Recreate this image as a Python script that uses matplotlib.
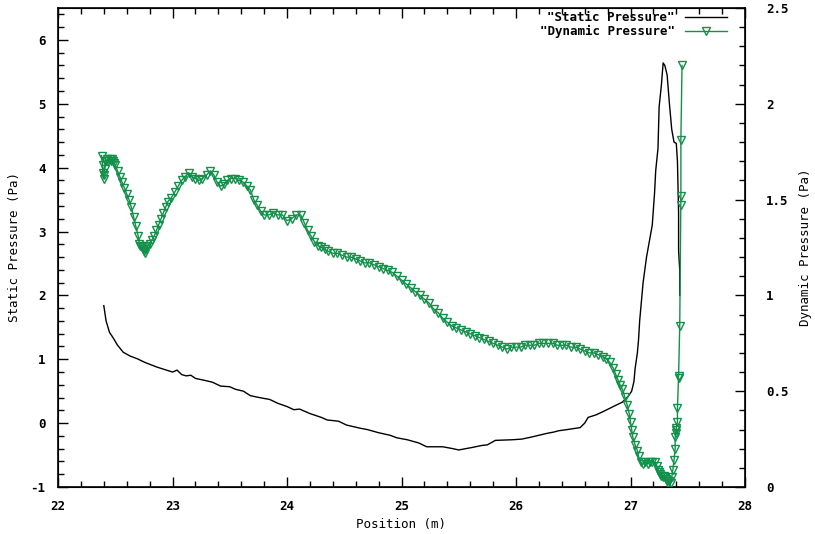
import matplotlib
matplotlib.use('Agg')
import matplotlib.pyplot as plt
from matplotlib.ticker import MultipleLocator

# static pressure (left axis)
static_x = [22.40, 22.42, 22.45, 22.48, 22.52, 22.57, 22.63, 22.69, 22.76, 22.86,
            22.93, 23.00, 23.04, 23.08, 23.12, 23.16, 23.20, 23.28, 23.35, 23.42,
            23.50, 23.55, 23.62, 23.68, 23.76, 23.85, 23.92, 24.00, 24.06, 24.11,
            24.20, 24.30, 24.35, 24.45, 24.52, 24.64, 24.70, 24.80, 24.90, 24.96,
            25.05, 25.15, 25.22, 25.36, 25.45, 25.50, 25.53, 25.62, 25.70, 25.75,
            25.82, 25.97, 26.05, 26.13, 26.20, 26.27, 26.33, 26.37, 26.45, 26.56,
            26.60, 26.63, 26.70, 26.76, 26.85, 26.93, 26.98, 27.01, 27.03, 27.04,
            27.06, 27.07, 27.08, 27.09, 27.11, 27.14, 27.17, 27.19, 27.21, 27.22,
            27.24, 27.25, 27.27, 27.285, 27.30, 27.32, 27.34, 27.36, 27.38, 27.40,
            27.41, 27.42, 27.42, 27.43, 27.43]
static_y = [1.84, 1.60, 1.42, 1.34, 1.22, 1.11, 1.05, 1.01, 0.95, 0.88,
            0.84, 0.80, 0.83, 0.76, 0.74, 0.75, 0.70, 0.67, 0.64, 0.58,
            0.57, 0.53, 0.50, 0.43, 0.40, 0.37, 0.31, 0.26, 0.21, 0.22,
            0.15, 0.09, 0.05, 0.03, -0.03, -0.08, -0.10, -0.15, -0.19, -0.23,
            -0.26, -0.31, -0.37, -0.37, -0.40, -0.42, -0.41, -0.38, -0.35, -0.34,
            -0.27, -0.26, -0.25, -0.22, -0.19, -0.16, -0.14, -0.12, -0.10, -0.07,
            0.00, 0.09, 0.13, 0.18, 0.26, 0.33, 0.42, 0.50, 0.65, 0.85,
            1.10, 1.30, 1.60, 1.80, 2.20, 2.60, 2.90, 3.10, 3.60, 3.95,
            4.30, 4.95, 5.30, 5.64, 5.60, 5.45, 5.00, 4.60, 4.40, 4.38,
            4.10, 3.30, 2.70, 2.40, 2.00]

# dynamic pressure (right axis)
dyn_x = [22.38, 22.39, 22.39, 22.40, 22.40, 22.41, 22.41, 22.42, 22.43, 22.44,
         22.45, 22.46, 22.47, 22.48, 22.49, 22.50, 22.52, 22.54, 22.56, 22.58,
         22.60, 22.62, 22.64, 22.66, 22.68, 22.70, 22.71, 22.72, 22.73, 22.74,
         22.75, 22.76, 22.77, 22.78, 22.80, 22.82, 22.84, 22.86, 22.88, 22.90,
         22.92, 22.94, 22.96, 22.99, 23.02, 23.05, 23.08, 23.11, 23.14, 23.17,
         23.20, 23.23, 23.26, 23.30, 23.33, 23.36, 23.39, 23.42, 23.45, 23.48,
         23.51, 23.55, 23.58, 23.62, 23.65, 23.68, 23.71, 23.74, 23.77, 23.80,
         23.84, 23.88, 23.92, 23.96, 24.00, 24.04, 24.08, 24.12, 24.15, 24.18,
         24.21, 24.24, 24.27, 24.30, 24.33, 24.36, 24.40, 24.44, 24.48, 24.52,
         24.56, 24.60, 24.64, 24.68, 24.72, 24.76, 24.80, 24.84, 24.88, 24.92,
         24.96, 25.00, 25.04, 25.08, 25.12, 25.16, 25.20, 25.24, 25.28, 25.32,
         25.36, 25.40, 25.44, 25.48, 25.52, 25.56, 25.60, 25.64, 25.68, 25.72,
         25.76, 25.80, 25.84, 25.88, 25.92, 25.96, 26.00, 26.04, 26.08, 26.12,
         26.16, 26.20, 26.24, 26.28, 26.32, 26.36, 26.40, 26.44, 26.48, 26.52,
         26.56, 26.60, 26.64, 26.68, 26.72, 26.76, 26.79, 26.82, 26.85, 26.87,
         26.89, 26.91, 26.93, 26.95, 26.97, 26.99, 27.00, 27.01, 27.02, 27.04,
         27.06, 27.07, 27.09, 27.11, 27.13, 27.15, 27.17, 27.19, 27.21, 27.23,
         27.24, 27.25, 27.26, 27.27, 27.28, 27.29, 27.30, 27.31, 27.32, 27.33,
         27.34, 27.35, 27.36, 27.37, 27.38, 27.39, 27.39, 27.40, 27.40, 27.40,
         27.41, 27.41, 27.42, 27.42, 27.43, 27.44, 27.44, 27.44, 27.45]
dyn_y = [1.73, 1.68, 1.64, 1.61, 1.63, 1.66, 1.70, 1.70, 1.71, 1.70,
         1.71, 1.70, 1.71, 1.70, 1.69, 1.68, 1.65, 1.62, 1.59, 1.56,
         1.53, 1.50, 1.46, 1.41, 1.36, 1.31, 1.27, 1.26, 1.25, 1.24,
         1.23, 1.22, 1.24, 1.26, 1.27, 1.29, 1.31, 1.34, 1.37, 1.40,
         1.43, 1.46, 1.49, 1.51, 1.54, 1.57, 1.60, 1.62, 1.64, 1.62,
         1.61, 1.60, 1.61, 1.63, 1.65, 1.63, 1.59, 1.57, 1.58, 1.60,
         1.61, 1.61, 1.60, 1.59, 1.57, 1.55, 1.50, 1.47, 1.44, 1.42,
         1.42, 1.43, 1.42, 1.42, 1.39, 1.40, 1.42, 1.42, 1.38, 1.34,
         1.31, 1.28, 1.26, 1.25, 1.24, 1.23, 1.22, 1.22, 1.21, 1.20,
         1.20, 1.19, 1.18, 1.17, 1.17, 1.16, 1.15, 1.14, 1.13, 1.12,
         1.10, 1.08, 1.06, 1.04, 1.02, 1.00, 0.98, 0.96, 0.93, 0.91,
         0.88, 0.86, 0.84, 0.83, 0.82, 0.81, 0.80, 0.79, 0.78, 0.77,
         0.76, 0.75, 0.74, 0.73, 0.72, 0.73, 0.73, 0.73, 0.74, 0.74,
         0.74, 0.75, 0.75, 0.75, 0.75, 0.74, 0.74, 0.74, 0.73, 0.73,
         0.72, 0.71, 0.70, 0.70, 0.69, 0.68, 0.67, 0.65, 0.62, 0.59,
         0.56, 0.53, 0.51, 0.47, 0.43, 0.38, 0.34, 0.30, 0.26, 0.22,
         0.19, 0.16, 0.13, 0.12, 0.13, 0.12, 0.13, 0.13, 0.13, 0.11,
         0.09, 0.08, 0.07, 0.06, 0.05, 0.06, 0.05, 0.04, 0.03, 0.02,
         0.03, 0.02, 0.05, 0.09, 0.14, 0.20, 0.26, 0.30, 0.28, 0.31,
         0.34, 0.41, 0.57, 0.58, 0.84, 1.47, 1.52, 1.81, 2.20]

green = '#12904a'
plt.rcParams['font.family'] = 'DejaVu Sans Mono'
plt.rcParams['font.weight'] = 'bold'
plt.rcParams['font.size'] = 9

fig = plt.figure(figsize=(8.15, 5.34), dpi=100)
ax = fig.add_axes([58 / 815, 1 - 487 / 534, 687 / 815, 479 / 534])
ax2 = ax.twinx()

l1, = ax.plot(static_x, static_y, color='black', lw=1.0, label='"Static Pressure"')
l2, = ax2.plot(dyn_x, dyn_y, color=green, lw=1.0, marker='v', mfc='none',
               mec=green, mew=1.0, ms=6, label='"Dynamic Pressure"')

ax.set_xlim(22, 28)
ax.set_ylim(-1, 6.5)
ax2.set_ylim(0, 2.5)

ax.xaxis.set_major_locator(MultipleLocator(1))
ax.xaxis.set_minor_locator(MultipleLocator(0.2))
ax.yaxis.set_major_locator(MultipleLocator(1))
ax.yaxis.set_minor_locator(MultipleLocator(0.2))
ax2.yaxis.set_major_locator(MultipleLocator(0.5))
ax2.yaxis.set_minor_locator(MultipleLocator(0.1))

ax.tick_params(axis='x', which='both', direction='in', top=True, bottom=True, pad=9)
ax.tick_params(axis='y', which='both', direction='in', left=True, right=False, pad=9)
ax.tick_params(which='major', length=7, width=1)
ax.tick_params(which='minor', length=4, width=1)
ax2.tick_params(axis='y', which='both', direction='in', pad=15)
ax2.tick_params(which='major', length=7, width=1)
ax2.tick_params(which='minor', length=4, width=1)

ax2.yaxis.set_major_formatter(matplotlib.ticker.FuncFormatter(lambda v, p: '%g' % v))
ax.yaxis.set_major_formatter(matplotlib.ticker.FuncFormatter(lambda v, p: '%g' % v))

ax.set_xlabel('Position (m)', labelpad=4)
ax.set_ylabel('Static Pressure (Pa)', labelpad=7)
ax2.set_ylabel('Dynamic Pressure (Pa)', labelpad=8)

for sp in ax.spines.values():
    sp.set_linewidth(1.2)

ax.legend(handles=[l1, l2], loc='upper right', frameon=False, markerfirst=False,
          numpoints=1, handlelength=3.4, borderaxespad=0.0, labelspacing=0.1,
          handletextpad=0.8, borderpad=0.0,
          bbox_to_anchor=(1 - 18 / 687, 1 - 3 / 479))

fig.savefig('out.png', dpi=100)
